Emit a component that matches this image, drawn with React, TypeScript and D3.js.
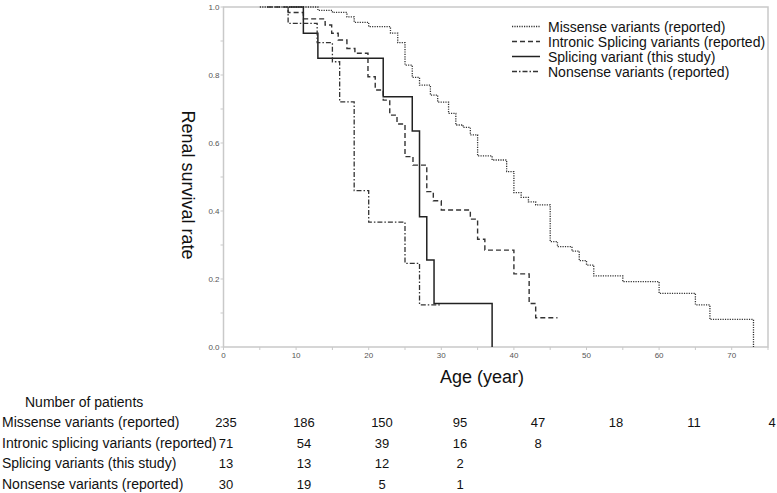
import React from 'react';
import * as d3 from 'd3';

// Kaplan-Meier step points [age, survival]
const missense: [number, number][] = [
  [5, 1], [13, 0.99], [15, 0.984], [17, 0.971], [18, 0.955], [20, 0.942], [23, 0.923],
  [24, 0.895], [25, 0.829], [26, 0.793], [27, 0.77], [28.5, 0.741], [29.5, 0.72],
  [31, 0.687], [32, 0.653], [33, 0.646], [34, 0.624], [35, 0.562], [37, 0.55],
  [39, 0.516], [40, 0.454], [41, 0.44], [42, 0.427], [43, 0.418], [45, 0.31],
  [46, 0.295], [48, 0.282], [49, 0.254], [50, 0.241], [51, 0.209], [55, 0.192],
  [60, 0.158], [65, 0.124], [67, 0.081], [73, 0],
];
const intronic: [number, number][] = [
  [6, 1], [8.9, 0.984], [11, 0.965], [14, 0.947], [14.9, 0.923], [15.8, 0.903],
  [17, 0.878], [18.1, 0.864], [19.9, 0.795], [20.9, 0.756], [22, 0.726], [22.9, 0.682],
  [23.9, 0.656], [25, 0.56], [26.1, 0.535], [28, 0.457], [28.9, 0.43], [30, 0.403],
  [34, 0.376], [35, 0.317], [36, 0.285], [40, 0.215], [42.1, 0.128], [43, 0.086],
  [46, 0.086],
];
const splicing: [number, number][] = [
  [9, 1], [11, 0.923], [13, 0.849], [22, 0.736], [26, 0.635], [27, 0.383],
  [28, 0.256], [29, 0.128], [37, 0],
];
const nonsense: [number, number][] = [
  [8.9, 1], [8.9, 0.952], [12.9, 0.895], [15, 0.839], [16, 0.721], [18, 0.46],
  [20, 0.367], [25, 0.246], [27, 0.124], [30, 0.124],
];

const legendLabels = [
  'Missense variants (reported)',
  'Intronic Splicing variants (reported)',
  'Splicing variant (this study)',
  'Nonsense variants (reported)',
];

const tableAges = [0, 10, 20, 30, 40, 50, 60, 70];
const tableLabels = [
  'Missense variants (reported)',
  'Intronic splicing variants (reported)',
  'Splicing variants (this study)',
  'Nonsense variants (reported)',
];
const missenseCounts = [235, 186, 150, 95, 47, 18, 11, 4];
const intronicCounts = [71, 54, 39, 16, 8];
const splicingCounts = [13, 13, 12, 2];
const nonsenseCounts = [30, 19, 5, 1];

const W = 777;
const H = 493;
const FONT = '"Liberation Sans", Arial, sans-serif';

const series = [
  { data: missense, dash: '1.2 1.2', width: 1.3, color: '#333' },
  { data: intronic, dash: '5 3', width: 1.4, color: '#333' },
  { data: splicing, dash: null, width: 1.5, color: '#222' },
  { data: nonsense, dash: '5 2 1.5 2', width: 1.3, color: '#333' },
];

export default function App() {
  const x = d3.scaleLinear().domain([0, 75]).range([223.5, 768]);
  const y = d3.scaleLinear().domain([0, 1]).range([347, 7]);
  const tableX = d3.scaleLinear().domain([0, 70]).range([226, 772]);

  const line = d3.line<[number, number]>()
    .x(d => x(d[0]))
    .y(d => y(d[1]))
    .curve(d3.curveStepAfter);

  const xTicks = d3.range(0, 76, 5);
  const yTicks = d3.range(0, 11).map(i => i / 10);
  const fmt = d3.format('.1f');
  const counts = [missenseCounts, intronicCounts, splicingCounts, nonsenseCounts];
  const axisColor = '#c9c9c9';

  return (
    <svg width={W} height={H} style={{ position: 'absolute', left: 0, top: 0, background: '#fff' }}
      fontFamily={FONT}>
      {/* frame */}
      <rect x={x(0)} y={y(1)} width={x(75) - x(0)} height={y(0) - y(1)}
        fill="none" stroke={axisColor} strokeWidth={1.5} />

      {/* x ticks */}
      {xTicks.map(t => (
        <g key={'x' + t}>
          <line x1={x(t)} x2={x(t)} y1={y(0)} y2={y(0) + 3} stroke={axisColor} />
          {t % 10 === 0 && t <= 70 && (
            <text x={x(t)} y={358} fontSize={8} fill="#555" textAnchor="middle">{t}</text>
          )}
        </g>
      ))}

      {/* y ticks */}
      {yTicks.map((v, i) => (
        <g key={'y' + i}>
          <line x1={x(0) - 3} x2={x(0)} y1={y(v)} y2={y(v)} stroke={axisColor} />
          {i % 2 === 0 && (
            <text x={x(0) - 4} y={y(v) + 3} fontSize={8} fill="#555" textAnchor="end">{fmt(v)}</text>
          )}
        </g>
      ))}

      {/* axis titles */}
      <text x={482} y={383} fontSize={18} textAnchor="middle" fill="#111">Age (year)</text>
      <text transform="translate(182,185) rotate(90)" fontSize={18} textAnchor="middle" fill="#111">
        Renal survival rate
      </text>

      {/* curves */}
      {series.map((s, i) => (
        <path key={i} d={line(s.data) || ''} fill="none" stroke={s.color}
          strokeWidth={s.width} strokeDasharray={s.dash || undefined} />
      ))}

      {/* legend */}
      {legendLabels.map((lab, i) => (
        <g key={lab} transform={`translate(0,${31.5 + i * 15})`}>
          <line x1={512} x2={540} y1={-5} y2={-5} stroke={series[i].color}
            strokeWidth={series[i].width} strokeDasharray={series[i].dash || undefined} />
          <text x={548} y={0} fontSize={14} fill="#111">{lab}</text>
        </g>
      ))}

      {/* number at risk table */}
      <text x={25} y={407} fontSize={14} fill="#111">Number of patients</text>
      {tableLabels.map((lab, r) => (
        <g key={lab} transform={`translate(0,${427 + r * 20.5})`}>
          <text x={2} y={0} fontSize={14} fill="#111">{lab}</text>
          {counts[r].map((n, c) => (
            <text key={c} x={tableX(tableAges[c])} y={0} fontSize={13} fill="#111" textAnchor="middle">{n}</text>
          ))}
        </g>
      ))}
    </svg>
  );
}
